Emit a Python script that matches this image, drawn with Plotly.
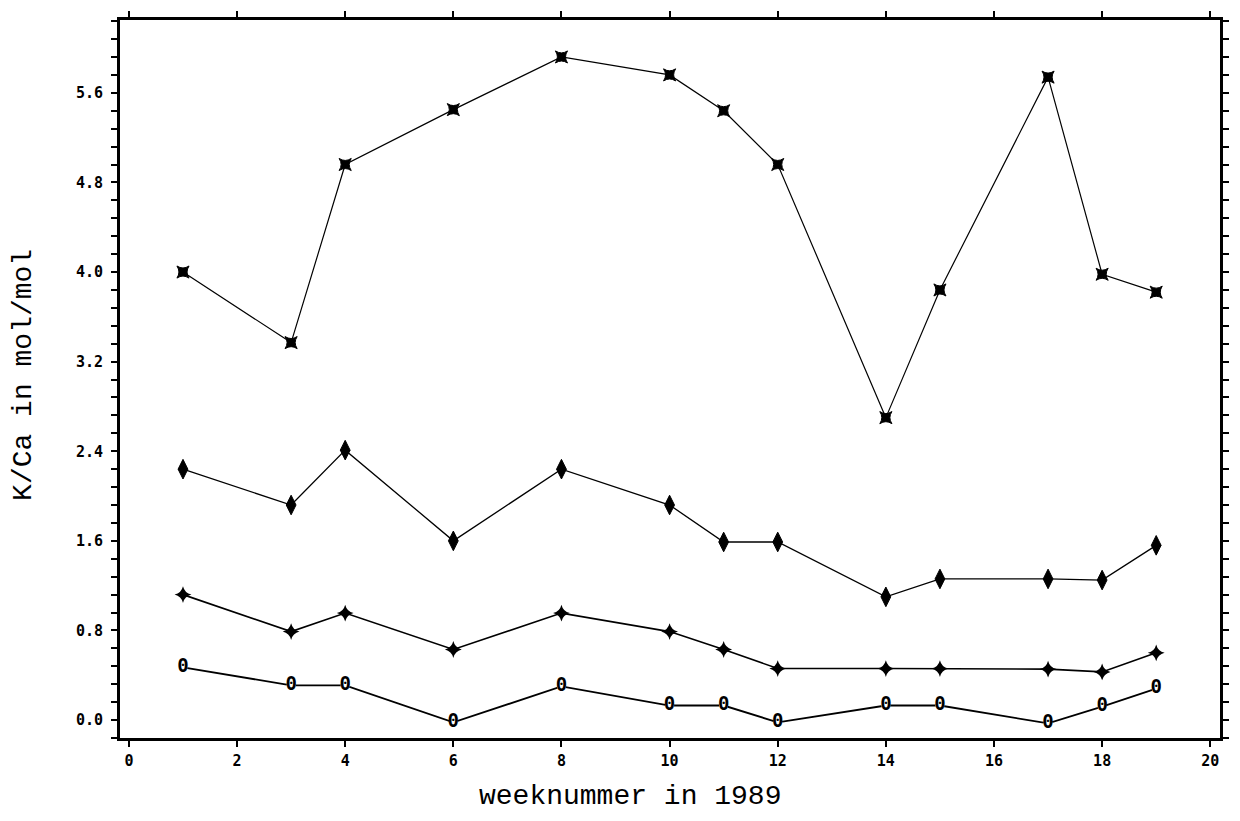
import plotly.graph_objects as go

# ---- data ----
weeks = [1, 3, 4, 6, 8, 10, 11, 12, 14, 15, 17, 18, 19]
series_star = [4.00, 3.37, 4.96, 5.45, 5.92, 5.76, 5.44, 4.96, 2.70, 3.84, 5.74, 3.98, 3.82]
series_eight = [2.24, 1.92, 2.41, 1.60, 2.24, 1.92, 1.59, 1.59, 1.10, 1.26, 1.26, 1.25, 1.56]
series_plus = [1.12, 0.79, 0.955, 0.63, 0.955, 0.79, 0.63, 0.46, 0.46, 0.46, 0.455, 0.43, 0.60]
series_zero = [0.47, 0.31, 0.31, -0.02, 0.30, 0.13, 0.13, -0.02, 0.13, 0.13, -0.03, 0.12, 0.28]

x_title = "weeknummer in 1989"
y_title = "K/Ca in mol/mol"

fig = go.Figure()

# upper series: star-like blobs
fig.add_trace(go.Scatter(
    x=weeks, y=series_star, mode="lines+markers",
    line=dict(color="black", width=1.2),
    marker=dict(symbol="star-square", size=11, color="black",
                line=dict(color="black", width=1)),
    showlegend=False))

# second series: tall filled "$"-like blobs
fig.add_trace(go.Scatter(
    x=weeks, y=series_eight, mode="lines+markers",
    line=dict(color="black", width=1.3),
    marker=dict(symbol="diamond-tall", size=14, color="black",
                line=dict(color="black", width=1)),
    showlegend=False))

# third series: four-point stars
fig.add_trace(go.Scatter(
    x=weeks, y=series_plus, mode="lines+markers",
    line=dict(color="black", width=1.6),
    marker=dict(symbol="star-diamond", size=12, color="black"),
    showlegend=False))

# bottom series: "0" markers
fig.add_trace(go.Scatter(
    x=weeks, y=series_zero, mode="lines+markers+text",
    line=dict(color="black", width=1.8),
    marker=dict(symbol="circle", size=9, color="white"),
    text=["0"] * len(weeks), textposition="middle center",
    textfont=dict(family="DejaVu Sans Mono", size=19, color="black", weight="bold"),
    showlegend=False))

tickfont = dict(family="DejaVu Sans Mono", size=15, color="black", weight="bold")

fig.update_layout(
    width=1240, height=821,
    margin=dict(l=120, r=12, t=11, b=83),
    paper_bgcolor="white", plot_bgcolor="white",
    xaxis=dict(range=[-0.165, 20.18], tick0=0, dtick=2,
               showgrid=False, zeroline=False,
               showline=True, linecolor="black", linewidth=3, mirror="ticks",
               ticks="outside", ticklen=6, tickwidth=2, tickcolor="black",
               tickfont=tickfont, ticklabelstandoff=1),
    yaxis=dict(range=[-0.16, 6.25], tick0=0, dtick=0.8, tickformat=".1f",
               showgrid=False, zeroline=False,
               showline=True, linecolor="black", linewidth=3, mirror="ticks",
               ticks="outside", ticklen=6, tickwidth=2, tickcolor="black",
               tickfont=tickfont, ticklabelstandoff=5,
               minor=dict(dtick=0.16, tick0=0, ticks="outside", ticklen=6,
                          tickwidth=2, tickcolor="black", showgrid=False)),
    annotations=[
        dict(text=x_title, xref="paper", yref="paper", x=0.464, y=-0.082,
             xanchor="center", yanchor="middle", showarrow=False,
             font=dict(family="Liberation Mono, Courier New, monospace", size=28, color="black")),
        dict(text=y_title, xref="paper", yref="paper", x=-0.088, y=0.506,
             xanchor="center", yanchor="middle", showarrow=False, textangle=-90,
             font=dict(family="Liberation Mono, Courier New, monospace", size=28, color="black")),
    ],
)

fig.write_html("out.html")
